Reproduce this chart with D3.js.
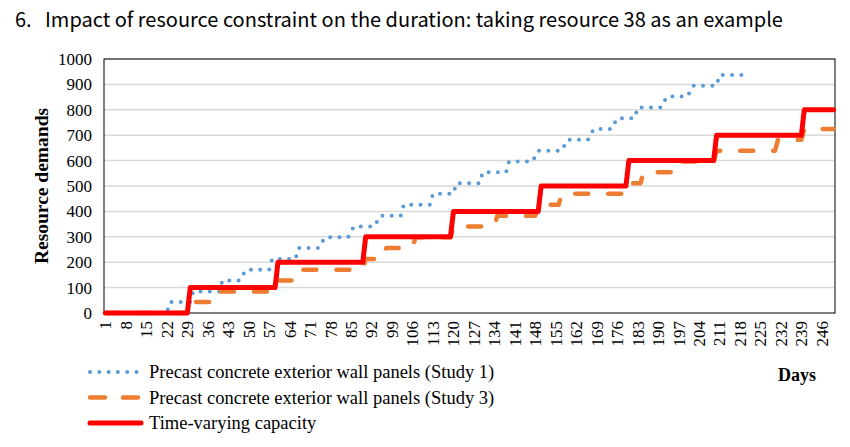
<!DOCTYPE html>
<html>
<head>
<meta charset="utf-8">
<script src="https://cdn.jsdelivr.net/npm/d3@7"></script>
<style>
  body { margin: 0; background: #fff; }
  svg { display: block; }
</style>
</head>
<body>
<svg id="chart" width="850" height="447"></svg>
<script>

// days on the category axis and the labelled ones
const days = d3.range(1, 251);
const tickDays = [1, 8, 15, 22, 29, 36, 43, 50, 57, 64, 71, 78, 85, 92, 99, 106, 113, 120, 127,
                  134, 141, 148, 155, 162, 169, 176, 183, 190, 197, 204, 211, 218, 225, 232, 239, 246];
const yTicks = [0, 100, 200, 300, 400, 500, 600, 700, 800, 900, 1000];

// Study 1 demand (values read where the level changes)
const study1Days = [1, 22, 23, 30, 31, 40, 41, 47, 49, 57, 58, 66, 67, 74, 76, 84, 86, 93, 95, 102, 103,
                    112, 113, 120, 121, 129, 130, 138, 139, 147, 149, 157, 159, 166, 168, 174, 176, 182,
                    183, 191, 193, 200, 202, 210, 211, 220];
const study1Values = [0, 0, 43, 43, 85, 85, 128, 128, 170, 170, 213, 213, 256, 256, 298, 298, 341, 341,
                      383, 383, 426, 426, 469, 469, 511, 511, 554, 554, 596, 596, 639, 639, 682, 682,
                      724, 724, 767, 767, 809, 809, 852, 852, 895, 895, 937, 937];

// Study 3 demand
const study3Days = [1, 30, 31, 37, 38, 59, 60, 65, 66, 89, 90, 96, 97, 106, 107, 119, 120, 134, 135, 148,
                    149, 156, 157, 178, 179, 184, 185, 196, 197, 209, 210, 230, 231, 239, 240, 250];
const study3Values = [0, 0, 43, 43, 85, 85, 128, 128, 170, 170, 213, 213, 256, 256, 298, 298, 341, 341,
                      383, 383, 426, 426, 469, 469, 511, 511, 554, 554, 596, 596, 639, 639, 682, 682,
                      724, 724];

// time-varying capacity
const capacityDays = [1, 29, 30, 59, 60, 89, 90, 119, 120, 149, 150, 179, 180, 209, 210, 239, 240, 250];
const capacityValues = [0, 0, 100, 100, 200, 200, 300, 300, 400, 400, 500, 500, 600, 600, 700, 700, 800, 800];

const seriesNames = ['Precast concrete exterior wall panels (Study 1)',
                     'Precast concrete exterior wall panels (Study 3)',
                     'Time-varying capacity'];

const serif = '"Liberation Serif", "Times New Roman", serif';
const sans = '"Noto Sans CJK SC", "Noto Sans", sans-serif';

let svg = d3.select('#chart'),
    plot = {left: 104, right: 835, top: 59, bottom: 313};

let x = d3.scaleBand().domain(days).range([plot.left, plot.right]).padding(0),
    y = d3.scaleLinear().domain([0, 1000]).range([plot.bottom, plot.top]);

let cx = d => x(d) + x.bandwidth() / 2;

// title
svg.append('text')
    .attr('x', 15).attr('y', 27)
    .attr('font-family', sans).attr('font-size', 20).attr('fill', '#000')
    .text('6.');
svg.append('text')
    .attr('x', 45).attr('y', 27)
    .attr('font-family', sans).attr('font-size', 20).attr('fill', '#000')
    .text('Impact of resource constraint on the duration: taking resource 38 as an example');

// grid
svg.append('g')
    .selectAll('line')
    .data(yTicks.slice(1))
    .enter()
    .append('line')
    .attr('x1', plot.left).attr('x2', plot.right)
    .attr('y1', d => y(d)).attr('y2', d => y(d))
    .attr('stroke', '#d9d9d9').attr('stroke-width', 1.5);

// y axis labels
let yAxis = svg.append('g')
    .attr('transform', 'translate(' + plot.left + ',0)')
    .call(d3.axisLeft(y).tickValues(yTicks).tickFormat(d3.format('d')).tickSize(0).tickPadding(12));
yAxis.select('.domain').remove();
yAxis.attr('font-family', serif);
yAxis.selectAll('text')
    .attr('font-size', 17).attr('fill', '#000');

// x axis labels
let xAxis = svg.append('g')
    .attr('transform', 'translate(0,' + plot.bottom + ')')
    .call(d3.axisBottom(x).tickValues(tickDays).tickSize(0));
xAxis.select('.domain').remove();
xAxis.attr('font-family', serif);
xAxis.selectAll('text')
    .attr('font-size', 17).attr('fill', '#000')
    .attr('transform', 'rotate(-90)')
    .attr('text-anchor', 'end')
    .attr('x', -8).attr('y', 0).attr('dy', '0.35em');

// plot frame
svg.append('rect')
    .attr('x', plot.left).attr('y', plot.top)
    .attr('width', plot.right - plot.left).attr('height', plot.bottom - plot.top)
    .attr('fill', 'none').attr('stroke', '#000').attr('stroke-width', 1);

let line = d3.line().x(d => cx(d[0])).y(d => y(d[1]));

const styles = [
    {color: '#5B9BD5', width: 4, dash: '0,9.3'},
    {color: '#ED7D31', width: 4.5, dash: '13,20'},
    {color: '#FF0000', width: 5, dash: null}
];

let series = [
    d3.zip(study1Days, study1Values),
    d3.zip(study3Days, study3Values),
    d3.zip(capacityDays, capacityValues)
];

series.forEach((s, i) => {
    svg.append('path')
        .datum(s)
        .attr('d', line)
        .attr('fill', 'none')
        .attr('stroke', styles[i].color)
        .attr('stroke-width', styles[i].width)
        .attr('stroke-linecap', 'round')
        .attr('stroke-linejoin', 'round')
        .attr('stroke-dasharray', styles[i].dash);
});

// y title
svg.append('text')
    .attr('transform', 'translate(48,186) rotate(-90)')
    .attr('text-anchor', 'middle')
    .attr('font-family', serif).attr('font-size', 19.5).attr('font-weight', 'bold')
    .text('Resource demands');

// x title
svg.append('text')
    .attr('x', 778).attr('y', 381)
    .attr('font-family', serif).attr('font-size', 18).attr('font-weight', 'bold')
    .text('Days');

// legend
let legend = svg.append('g')
    .selectAll('g')
    .data(seriesNames)
    .enter()
    .append('g')
    .attr('transform', (d, i) => 'translate(88,' + (372 + i * 25.5) + ')');

legend.append('line')
    .attr('x1', 2).attr('x2', 53)
    .attr('stroke', (d, i) => styles[i].color)
    .attr('stroke-width', (d, i) => styles[i].width)
    .attr('stroke-linecap', 'round')
    .attr('stroke-dasharray', (d, i) => i === 0 ? '0,9.3' : (i === 1 ? '15,18' : null));

legend.append('text')
    .attr('x', 61).attr('dy', '0.35em')
    .attr('font-family', serif).attr('font-size', 18.5).attr('fill', '#000')
    .text(d => d);

</script>
</body>
</html>
